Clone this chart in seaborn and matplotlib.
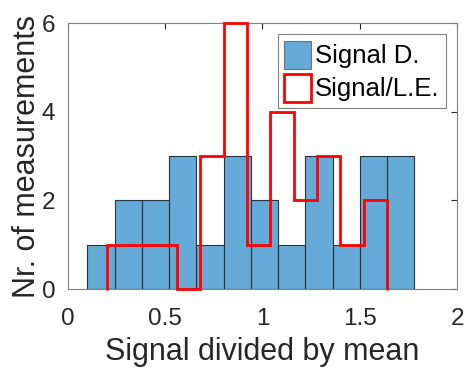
import numpy as np
import pandas as pd
import matplotlib
matplotlib.use("Agg")
import matplotlib.pyplot as plt
from matplotlib.patches import Patch
import seaborn as sns

# Data
blue_edges = [0.10, 0.24, 0.38, 0.52, 0.66, 0.80, 0.94, 1.08, 1.22, 1.36, 1.50, 1.64, 1.78]
blue_counts = [1, 2, 2, 3, 1, 3, 2, 1, 3, 1, 3, 3]
red_edges = [0.20, 0.32, 0.44, 0.56, 0.68, 0.80, 0.92, 1.04, 1.16, 1.28, 1.40, 1.52, 1.64]
red_counts = [1, 1, 1, 0, 3, 6, 1, 4, 2, 3, 1, 2]
x_ticks = [0, 0.5, 1, 1.5, 2]
x_tick_labels = ["0", "0.5", "1", "1.5", "2"]
y_ticks = [0, 2, 4, 6]
labels = ["Signal D.", "Signal/L.E."]

sns.set_theme(style="white")
plt.rcParams['font.family'] = ['Liberation Sans', 'DejaVu Sans']

blue_centers = [(a + b) / 2 for a, b in zip(blue_edges[:-1], blue_edges[1:])]
red_centers = [(a + b) / 2 for a, b in zip(red_edges[:-1], red_edges[1:])]
df_b = pd.DataFrame({"x": blue_centers, "w": blue_counts})
df_r = pd.DataFrame({"x": red_centers, "w": red_counts})

blue_face = (0.0, 0.447, 0.741)
bar_edge = (0.15, 0.2, 0.25)

fig = plt.figure(figsize=(4.65, 3.72), dpi=100)
ax = fig.add_axes([0.146, 0.223, 0.837, 0.715])

sns.histplot(data=df_b, x="x", weights="w", bins=blue_edges, ax=ax,
             color=blue_face, alpha=0.6, edgecolor=bar_edge, linewidth=0.8)
n_lines = len(ax.lines)
sns.histplot(data=df_r, x="x", weights="w", bins=red_edges, ax=ax,
             element="step", fill=False, color="#ff0000", linewidth=2)
# close the stairs outline down to the baseline at both ends
for ln in ax.lines[n_lines:]:
    xd, yd = ln.get_data()
    xd = np.asarray(xd, float)
    yd = np.asarray(yd, float)
    ln.set_data(np.r_[xd[0], xd, xd[-1]], np.r_[0.0, yd, 0.0])
    ln.set_clip_on(False)
    ln.set_solid_joinstyle("miter")
    ln.set_zorder(3)

ax.set_xlim(0, 2)
ax.set_ylim(0, 6)
ax.set_xticks(x_ticks)
ax.set_xticklabels(x_tick_labels)
ax.set_yticks(y_ticks)
ax.tick_params(direction="in", length=4, width=0.8, colors="#262626",
               labelsize=17.5, top=True, right=True)
ax.tick_params(axis="x", pad=14)
ax.tick_params(axis="y", pad=9)
for s in ax.spines.values():
    s.set_color("#808080")
    s.set_linewidth(0.8)
ax.set_xlabel("Signal divided by mean", fontsize=22, color="#262626", labelpad=5)
ax.set_ylabel("Nr. of measurements", fontsize=22, color="#262626", labelpad=0)

handles = [Patch(facecolor=blue_face, alpha=0.6, edgecolor=bar_edge, linewidth=0.8),
           Patch(facecolor="white", edgecolor="#ff0000", linewidth=2)]
leg = ax.legend(handles, labels, loc="upper right", fontsize=18.5, frameon=True,
                fancybox=False, edgecolor="#808080", framealpha=1,
                handlelength=1.05, handleheight=1.3,
                handletextpad=0.15, borderpad=0.25, labelspacing=0.2,
                borderaxespad=0.43)
leg.get_frame().set_linewidth(0.8)
for t in leg.get_texts():
    t.set_color("black")

fig.savefig("out.png", dpi=100)
